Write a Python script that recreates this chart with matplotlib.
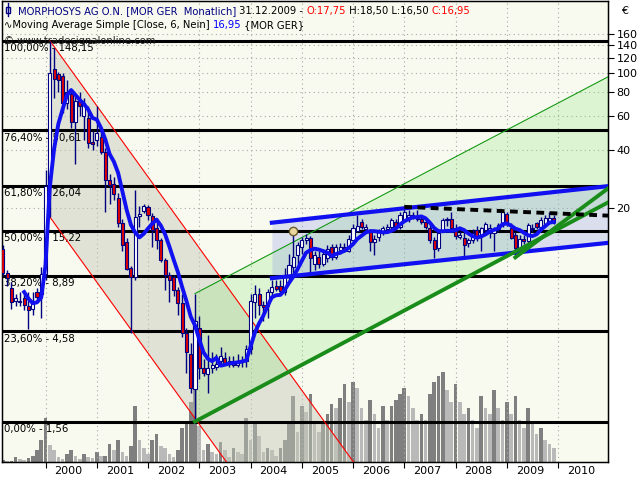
import numpy as np
import pandas as pd
import matplotlib.pyplot as plt
from matplotlib.lines import Line2D
from matplotlib.patches import Rectangle

# monthly candles, month index 0 = Jan 2000, first candle Mar 1999, last Dec 2009
months = np.arange(-10, 120)

opens = [12.2, 9.2, 7.7, 6.6, 6.6, 6.8, 6.2, 6.0, 7.3, 7.2,
         9.1, 26.0, 106, 99, 97, 70, 78, 56, 72, 60, 59, 44,
         45, 47, 39, 28, 26.7, 22.5, 16.7, 13.3, 9.8, 8.8, 18.2, 19.3,
         20.2, 18.3, 15.7, 13.6, 10.7, 9.0, 8.8, 7.5, 6.4, 4.5, 3.5, 2.3,
         4.8, 2.95, 2.75, 2.95, 3.0, 3.2, 3.35, 3.2, 3.2, 3.05, 3.2, 3.2,
         3.7, 6.5, 7.2, 6.3, 6.2, 7.3, 7.9, 7.9, 7.3, 8.8, 9.9, 11.4,
         12.5, 13.6, 14.0, 10.2, 11.1, 10.3, 11.0, 12.5, 11.2, 12.1, 12.6, 12.0,
         13.7, 15.3, 17.0, 15.5, 15.1, 13.4, 14.1, 15.1, 15.5, 15.9, 16.9, 15.9,
         17.4, 17.5, 18.5, 18.2, 17.6, 17.0, 15.8, 13.6, 12.4, 15.4, 17.3, 17.5,
         15.8, 14.2, 14.0, 13.2, 13.6, 15.4, 14.4, 15.4, 14.8, 14.8, 15.6, 16.5,
         18.7, 15.7, 14.5, 12.4, 13.9, 13.5, 15.5, 16.7, 15.9, 16.6, 16.8, 17.75]
highs = [12.8, 9.5, 8.3, 7.2, 7.3, 7.2, 7.3, 7.3, 7.7, 9.9,
         31.5, 148.15, 135, 102, 100, 92, 82, 76, 80, 75, 68, 50,
         68, 50, 41, 30, 29, 24, 17.5, 14, 10, 24.8, 20.5, 21,
         20.8, 18.8, 17, 14, 11, 9.3, 9.0, 7.8, 7.2, 4.8, 4.0, 7.2,
         5.5, 3.3, 4.4, 3.6, 3.5, 3.8, 3.6, 3.4, 3.4, 3.5, 3.4, 3.9,
         7.2, 8.0, 7.7, 6.6, 7.6, 8.5, 8.5, 8.5, 9.8, 11.5, 15.2, 13.3,
         14.2, 14.6, 14.3, 12.0, 12.0, 12.2, 12.8, 13.0, 13.0, 13.2, 13.2, 14.5,
         16.5, 18.5, 17.5, 16.5, 15.5, 14.5, 15.5, 16.2, 16.5, 17.8, 17.5, 19.0,
         20.3, 19.5, 19.2, 19.5, 18.5, 17.8, 16.5, 14.2, 15.2, 17.8, 18.0, 19.0,
         16.5, 15.2, 15.0, 14.0, 15.5, 16.2, 16.0, 17.0, 16.5, 16.0, 16.8, 19.3,
         19.0, 16.8, 15.0, 14.5, 14.5, 16.8, 16.5, 17.0, 18.0, 18.5, 19.2, 18.5]
lows = [8.9, 7.9, 6.0, 6.2, 6.2, 5.9, 4.7, 5.6, 6.5, 5.4,
        8.5, 18.0, 75, 80, 62, 65, 52, 34, 60, 45, 41, 40,
        42, 38, 19, 21, 22, 16, 12, 9.5, 4.5, 8.5, 16, 18.8,
        17.3, 12.5, 12.2, 10.5, 7.5, 6.5, 7.0, 5.6, 4.3, 2.8, 2.2, 1.56,
        2.6, 2.7, 2.2, 2.8, 2.9, 3.1, 3.1, 3.0, 3.0, 3.0, 3.0, 3.0,
        3.5, 5.4, 5.6, 5.2, 5.4, 7.0, 7.4, 7.2, 7.1, 8.5, 9.0, 10.3,
        11.6, 13.0, 9.2, 9.5, 9.8, 10.0, 10.5, 10.8, 10.9, 11.5, 11.8, 11.8,
        13.5, 15.0, 15.5, 15.0, 12.0, 11.4, 13.5, 14.5, 15.0, 15.5, 15.5, 15.5,
        17.0, 17.0, 17.5, 17.2, 16.5, 15.5, 13.2, 11.0, 12.0, 15.0, 16.2, 15.5,
        13.8, 13.8, 11.2, 12.5, 13.2, 13.5, 12.0, 15.0, 14.0, 12.0, 15.0, 16.0,
        16.2, 13.8, 11.1, 12.0, 13.0, 13.2, 15.0, 15.5, 15.5, 16.0, 16.5, 16.5]
closes = [9.2, 8.7, 6.5, 6.8, 6.5, 6.3, 5.9, 6.5, 6.9, 9.1,
          26.0, 100, 94, 92, 70, 80, 56, 72, 68, 70, 43.6, 43,
          49, 39, 28, 26.5, 23.7, 16.7, 12.8, 9.7, 8.8, 17.9, 18.7, 20.4,
          18.5, 15.4, 13.7, 10.7, 9.0, 8.5, 7.5, 6.4, 4.5, 3.6, 2.33, 5.2,
          2.95, 2.8, 2.95, 3.05, 3.1, 3.4, 3.15, 3.1, 3.05, 3.2, 3.25, 3.7,
          6.6, 7.2, 6.3, 6.1, 7.35, 7.8, 7.6, 7.4, 8.8, 10.1, 11.1, 12.8,
          13.6, 14.0, 11.0, 11.4, 10.3, 11.5, 12.3, 11.2, 12.6, 12.5, 12.0, 13.9,
          15.8, 16.2, 15.9, 15.9, 13.4, 13.9, 15.1, 15.7, 16.0, 17.3, 16.0, 18.5,
          19.0, 18.5, 18.2, 17.5, 17.0, 16.0, 13.6, 12.3, 14.8, 17.3, 17.5, 15.8,
          14.4, 14.5, 12.8, 13.6, 14.8, 14.1, 15.7, 16.6, 15.8, 15.5, 16.4, 19.0,
          16.6, 14.0, 12.4, 13.9, 13.5, 16.3, 15.8, 15.9, 17.4, 17.8, 17.8, 16.95]
volumes = [2, 1, 1, 5, 3, 2, 4, 6, 12, 22,
           44, 17, 12, 5, 3, 8, 12, 6, 3, 8, 5, 4,
           10, 6, 6, 18, 12, 22, 10, 6, 16, 56, 22, 14,
           8, 22, 28, 16, 14, 8, 5, 12, 34, 40, 60, 94,
           36, 12, 18, 10, 8, 20, 12, 5, 14, 10, 8, 44,
           22, 40, 26, 10, 14, 12, 6, 14, 22, 40, 66, 30,
           56, 50, 68, 40, 30, 38, 48, 58, 54, 64, 78, 60,
           80, 74, 54, 42, 62, 48, 34, 56, 42, 56, 62, 68,
           74, 66, 54, 42, 48, 42, 68, 80, 86, 90, 72, 60,
           78, 60, 48, 54, 42, 34, 66, 54, 48, 72, 54, 42,
           60, 48, 66, 42, 34, 54, 40, 28, 34, 22, 18, 14]

# fibonacci retracement Feb 2000 high -> Dec 2002 low
fib_pct = ['100,00%', '76,40%', '61,80%', '50,00%', '38,20%', '23,60%', '0,00%']
fib_val = [148.15, 50.61, 26.04, 15.22, 8.89, 4.58, 1.56]
fib_txt = ['148,15', '50,61', '26,04', '15,22', '8,89', '4,58', '1,56']

# trend channels (month, price) anchors
down_start, down_high, down_low = 1, 148.15, 18.0
down_end, down_end_high, down_end_low = 80, 0.55, 0.067
up_start, up_low, up_high = 35, 1.56, 7.2
up_end, up_end_low, up_end_high = 131.7, 21.4, 96.0
reg_start, reg_up, reg_lo = 53, 16.8, 8.66
reg_end, reg_end_up, reg_end_lo = 131.7, 26.0, 13.2
steep_m, steep_p = [110, 131.7], [11.1, 25.3]
res_m, res_p = [84, 107], [20.3, 19.3]
marker_m, marker_p = 58, 15.22

yticks = [20, 40, 60, 80, 100, 120, 140, 160]
years = [str(y) for y in range(2000, 2011)]

bg = '#F8FAEF'
navy = '#000080'

fig = plt.figure(figsize=(6.4, 4.8), dpi=100)
rect = [2 / 640, 18 / 480, 606 / 640, 461 / 480]
axv = fig.add_axes(rect)
ax = fig.add_axes(rect, sharex=axv)
ax.set_zorder(axv.get_zorder() + 1)
ax.patch.set_visible(False)
axv.set_facecolor(bg)

# volume
vol = np.array(volumes, dtype=float)
vcol = ['#7F7F7F' if i == 0 or vol[i] >= vol[i - 1] else '#B9B9B9' for i in range(len(vol))]
axv.bar(months, vol, width=0.85, color=vcol, linewidth=0)
axv.set_ylim(0, 461 / 94 * vol.max())
axv.set_yticks([])

ax.set_yscale('log')
ax.set_ylim(0.962, 237.7)
ax.set_xlim(-10.19, 131.7)

# grid
for m in range(0, 132, 12):
    ax.axvline(m, color='#A8A8A8', lw=0.8, ls=(0, (1, 3)), zorder=0.5)
for v in yticks:
    ax.axhline(v, color='#A8A8A8', lw=0.8, ls=(0, (1, 3)), zorder=0.5)

# down channel (gray)
xd = np.array([down_start, down_end])
ud = np.array([down_high, down_end_high])
ld = np.array([down_low, down_end_low])
ax.fill_between(xd, ld, ud, color='#C4C9B8', alpha=0.48, lw=0, zorder=1)
ax.plot(xd, ud, color='#FF0000', lw=0.8, zorder=3)
ax.plot(xd, ld, color='#FF0000', lw=0.8, zorder=3)

# up channel (green)
xu = np.array([up_start, up_end])
ax.fill_between(xu, [up_low, up_end_low], [up_high, up_end_high], color='#8CE678', alpha=0.25, lw=0, zorder=1)
ax.plot(xu, [up_high, up_end_high], color='#119911', lw=0.8, zorder=3)

# regression channel (blue)
xr = np.array([reg_start, reg_end])
ax.fill_between(xr, [reg_lo, reg_end_lo], [reg_up, reg_end_up], color='#96A0EB', alpha=0.3, lw=0, zorder=1)

# fibonacci lines + labels
for p, v, t in zip(fib_pct, fib_val, fib_txt):
    ax.axhline(v, color='black', lw=2.2, zorder=2)
    ax.annotate(p + ' - ' + t, (-10.19, v), xytext=(1.5, -1.5), textcoords='offset points',
                ha='left', va='top', fontsize=7.3, zorder=2)

# candles
for m, o, h, l, c in zip(months, opens, highs, lows, closes):
    ax.plot([m, m], [l, h], color=navy, lw=1, zorder=4, solid_capstyle='butt')
    ax.bar(m, abs(c - o), bottom=min(o, c), width=0.72,
           color='#E00000' if c < o else 'white', edgecolor=navy, lw=0.8, zorder=4.1)

# moving average
ma = pd.Series(closes).rolling(6).mean()
ax.plot(months, ma, color='#1010F0', lw=2.8, zorder=5, solid_joinstyle='round')

# channel lines on top
ax.plot(xr, [reg_up, reg_end_up], color='#1010F0', lw=3, zorder=6)
ax.plot(xr, [reg_lo, reg_end_lo], color='#1010F0', lw=3, zorder=6)
ax.plot(xu, [up_low, up_end_low], color='#1A8C1A', lw=2.8, zorder=6)
ax.plot(steep_m, steep_p, color='#1A8C1A', lw=2.8, zorder=6)
k = np.log10(res_p[1] / res_p[0]) / (res_m[1] - res_m[0])
xe = np.array([res_m[0], 131.7])
ax.plot(xe, res_p[0] * 10 ** (k * (xe - res_m[0])), color='black', lw=2.8,
        ls=(0, (2, 1.4)), zorder=6)
ax.plot(marker_m, marker_p, 'o', ms=6, mfc='#E8D8A0', mec='#6B5B2B', mew=1, zorder=7)

# axes
ax.yaxis.tick_right()
ax.set_yticks(yticks)
ax.set_yticklabels([str(v) for v in yticks])
ax.yaxis.set_minor_locator(plt.NullLocator())
ax.tick_params(axis='y', which='major', direction='out', length=4, labelsize=8, pad=2)
ax.set_xticks(range(0, 121, 12))
ax.set_xticklabels([])
ax.set_xticks(np.arange(5.4, 127, 12), minor=True)
ax.set_xticklabels(years, minor=True)
ax.tick_params(axis='x', which='major', direction='out', length=4)
ax.tick_params(axis='x', which='minor', length=0, labelsize=8, pad=3)
axv.tick_params(axis='x', which='both', length=0, labelbottom=False)
for s in ax.spines.values():
    s.set_color('black')
    s.set_linewidth(1)

# header
fs = 7.2
def chain(parts, x, y):
    t = fig.text(x, y, parts[0][0], color=parts[0][1], fontsize=fs, va='baseline', zorder=10)
    for s, col in parts[1:]:
        t = ax.annotate(s, xy=(1, 0), xycoords=t, va='bottom', ha='left', color=col,
                        fontsize=fs, annotation_clip=False)
    return t

chain([('MORPHOSYS AG O.N. [MOR GER  Monatlich]', navy), (' 31.12.2009 - ', 'black'),
       ('O:17,75', 'red'), (' H:18,50 L:16,50 ', 'black'), ('C:16,95', 'red')],
      18 / 640, 1 - 14 / 480)
chain([('\u223fMoving Average Simple [Close, 6, Nein] ', 'black'), ('16,95', 'blue'),
       (' {MOR GER}', 'black')], 4 / 640, 1 - 28 / 480)
fig.text(4 / 640, 1 - 44 / 480, '\u00a9 www.tradesignalonline.com', fontsize=7.2, color='#222222')
# small candle icon
fig.add_artist(Line2D([8 / 640, 8 / 640], [1 - 3 / 480, 1 - 16 / 480], color=navy, lw=1))
fig.add_artist(Rectangle((6 / 640, 1 - 13 / 480), 4 / 640, 6 / 480, facecolor='white',
                         edgecolor=navy, lw=1))
fig.text(621 / 640, 1 - 14 / 480, '\u20ac', fontsize=8)

fig.savefig('out.png', dpi=100)
